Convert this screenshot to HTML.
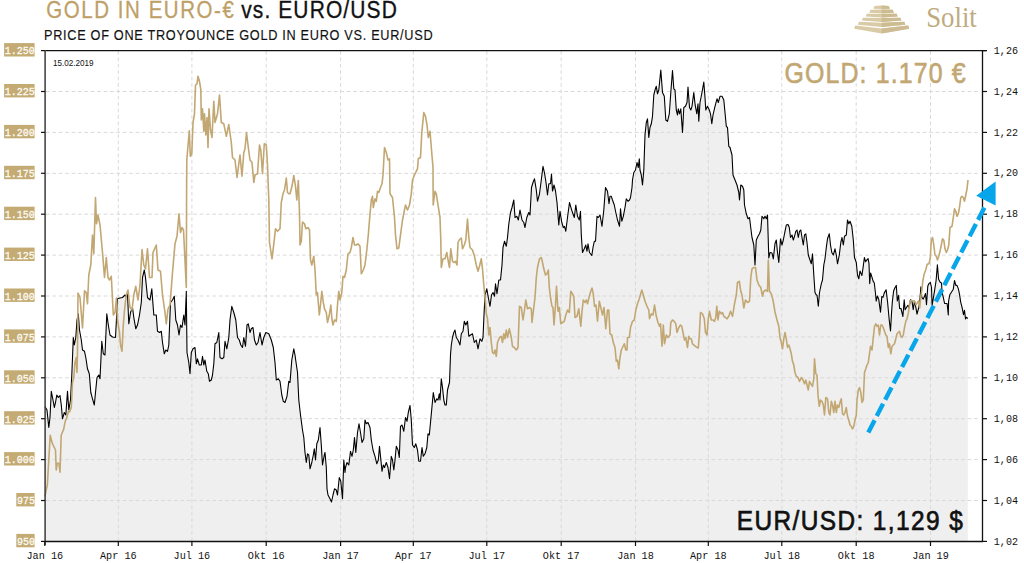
<!DOCTYPE html>
<html><head><meta charset="utf-8"><style>
html,body{margin:0;padding:0;background:#fff;width:1024px;height:563px;overflow:hidden}
svg{display:block}
.sans{font-family:"Liberation Sans",sans-serif}
.mono{font-family:"Liberation Mono",monospace}
.serif{font-family:"Liberation Serif",serif}
</style></head><body>
<svg width="1024" height="563" viewBox="0 0 1024 563">
<path d="M44.9,406.6 L47.0,410.0 L48.8,427.5 L50.0,417.5 L51.3,391.3 L53.0,400.0 L54.3,407.5 L55.5,402.5 L56.8,395.0 L58.3,397.5 L60.0,395.5 L61.3,405.0 L62.5,418.8 L64.3,412.5 L65.8,415.0 L67.5,391.3 L68.8,410.0 L70.5,400.0 L71.8,375.0 L73.3,337.5 L74.3,345.0 L75.8,337.5 L77.0,320.0 L78.3,313.8 L79.5,330.0 L81.3,340.0 L82.5,350.0 L84.5,351.3 L85.8,357.5 L87.5,368.8 L89.3,373.8 L90.8,392.5 L92.5,398.8 L94.3,405.0 L95.5,392.5 L97.0,377.5 L98.8,375.0 L100.0,378.8 L101.8,341.3 L103.3,353.8 L105.0,355.0 L106.8,313.8 L108.3,325.0 L110.0,335.0 L112.5,337.0 L115.5,337.5 L117.5,298.8 L120.0,298.0 L122.5,297.5 L125.0,295.0 L126.3,296.3 L127.5,293.8 L128.8,323.8 L130.5,312.5 L132.5,307.5 L133.8,317.5 L135.8,328.8 L137.5,325.0 L139.5,315.0 L141.3,302.5 L142.5,277.5 L144.3,270.0 L145.5,277.5 L147.5,297.5 L150.0,300.0 L151.8,288.8 L153.8,315.0 L156.3,315.0 L157.5,331.3 L159.5,332.5 L161.3,331.3 L162.5,342.5 L164.3,353.8 L165.8,350.0 L167.5,351.3 L168.8,345.0 L170.0,315.0 L170.5,302.5 L172.5,300.0 L174.3,296.3 L175.8,320.0 L177.5,325.0 L179.0,335.0 L180.5,325.0 L182.0,327.5 L183.8,315.0 L185.0,325.0 L186.3,291.3 L187.0,352.5 L188.8,362.5 L190.0,373.8 L191.3,352.5 L193.0,348.8 L195.0,347.5 L196.3,363.8 L197.5,358.8 L199.3,365.0 L201.3,365.0 L202.5,356.3 L203.8,365.0 L205.0,360.0 L206.8,371.3 L208.3,373.8 L209.5,381.3 L211.3,380.0 L212.5,375.0 L213.8,363.8 L215.0,343.8 L216.8,342.5 L218.8,332.5 L220.0,357.5 L222.0,358.8 L223.8,357.5 L225.0,341.3 L226.8,348.8 L228.8,337.5 L230.0,320.0 L231.8,306.3 L233.8,312.5 L235.8,320.0 L237.5,337.5 L239.3,340.0 L240.8,345.0 L242.5,347.5 L243.8,337.5 L245.5,346.3 L247.0,325.0 L248.3,323.8 L250.0,332.5 L251.3,328.8 L253.0,327.5 L254.5,340.0 L256.3,345.0 L258.0,342.5 L260.0,332.5 L262.0,345.0 L263.8,337.5 L265.8,332.5 L268.8,333.8 L271.3,340.0 L273.3,347.5 L275.0,362.5 L276.3,380.0 L278.3,378.8 L280.0,381.3 L281.8,395.0 L283.3,401.3 L285.0,402.5 L287.0,396.3 L288.8,381.3 L290.0,382.5 L291.8,360.0 L293.8,348.8 L295.0,355.0 L295.5,358.8 L297.5,372.5 L298.8,400.0 L300.5,415.0 L302.5,430.0 L303.8,437.5 L305.0,452.5 L306.3,462.5 L307.5,453.8 L308.8,455.0 L310.0,468.8 L311.8,462.5 L313.3,455.0 L314.3,448.8 L315.5,460.0 L316.8,443.8 L318.3,440.0 L320.0,427.5 L321.3,445.0 L322.5,465.0 L324.3,455.0 L325.0,452.5 L326.3,467.5 L327.0,488.8 L328.0,495.0 L330.0,498.8 L331.5,502.0 L333.0,495.0 L334.5,488.8 L336.3,490.0 L337.5,495.0 L339.3,477.5 L340.8,481.3 L342.5,498.8 L343.8,460.0 L345.0,472.5 L345.5,467.5 L347.0,462.5 L348.8,465.0 L350.5,451.3 L352.0,456.3 L353.3,450.0 L354.5,437.5 L355.8,452.5 L357.5,432.5 L359.0,423.8 L360.5,432.5 L362.0,442.5 L363.8,438.8 L365.0,420.0 L366.3,423.8 L368.0,422.5 L370.0,427.5 L371.3,440.0 L373.0,450.0 L375.0,456.3 L376.8,463.8 L378.3,460.0 L379.5,446.3 L380.5,456.3 L382.0,471.3 L383.3,465.0 L384.5,467.5 L386.3,462.5 L388.0,467.5 L389.5,478.8 L391.3,456.3 L392.5,460.0 L393.8,470.0 L395.0,460.0 L396.3,446.3 L398.0,450.0 L399.3,457.5 L400.5,426.3 L402.0,425.0 L403.8,431.3 L405.5,417.5 L407.0,421.3 L408.3,412.5 L410.0,405.5 L411.3,420.0 L412.5,445.0 L414.3,447.5 L415.8,443.8 L417.5,450.0 L418.8,461.3 L420.5,461.3 L422.0,447.5 L423.3,456.3 L425.0,453.8 L426.8,447.5 L428.0,433.8 L429.3,435.0 L430.5,422.5 L431.8,408.8 L433.3,392.5 L435.0,402.5 L436.8,398.8 L438.0,400.0 L439.3,393.8 L440.0,400.0 L441.3,378.8 L442.5,387.5 L443.8,400.0 L445.0,405.0 L446.3,405.0 L447.5,390.0 L449.5,382.5 L450.5,355.0 L451.3,345.0 L452.5,337.5 L453.8,332.5 L455.0,330.0 L456.3,337.5 L458.0,340.0 L460.0,345.0 L461.3,333.8 L463.0,331.3 L464.3,321.3 L465.8,325.0 L467.5,321.3 L468.8,336.3 L470.5,335.0 L472.5,333.8 L474.3,342.5 L476.3,340.0 L478.0,348.8 L480.0,338.8 L481.8,341.3 L483.0,337.5 L484.0,315.0 L485.0,295.0 L486.8,288.8 L488.3,297.5 L490.0,306.3 L491.5,295.0 L493.0,292.5 L494.5,296.3 L495.5,283.8 L497.0,293.8 L498.8,280.0 L500.5,280.0 L502.0,265.0 L503.0,247.5 L504.5,241.3 L506.3,246.3 L507.5,237.5 L508.8,224.0 L510.5,212.5 L512.0,207.5 L513.8,200.0 L515.0,217.5 L516.8,216.3 L518.3,220.0 L520.0,210.0 L522.0,220.0 L523.8,222.5 L525.0,227.5 L526.8,217.5 L528.8,212.5 L530.0,215.0 L531.5,187.5 L533.0,182.5 L534.5,178.8 L536.3,190.0 L537.5,201.3 L539.5,193.8 L541.3,180.0 L543.0,166.3 L544.5,173.0 L546.0,182.5 L547.5,195.0 L548.8,183.8 L550.5,183.8 L551.5,174.0 L552.5,191.0 L554.0,185.0 L555.5,191.0 L557.0,202.5 L558.8,225.0 L560.0,211.3 L561.8,222.5 L563.3,227.5 L564.5,226.3 L565.8,231.3 L567.5,217.5 L569.5,202.5 L571.3,208.8 L572.5,212.5 L574.3,217.5 L575.8,205.0 L577.5,216.3 L579.3,220.0 L580.5,211.3 L581.3,235.0 L582.5,252.5 L584.3,248.8 L585.8,245.0 L587.0,251.3 L588.0,243.8 L589.5,252.5 L591.8,255.5 L593.0,247.5 L594.3,241.3 L595.5,241.3 L597.0,216.3 L598.3,217.5 L600.0,215.0 L602.0,226.3 L603.8,210.0 L605.5,187.5 L607.5,191.3 L609.0,203.8 L610.0,196.3 L611.3,196.3 L612.5,200.0 L614.3,205.0 L615.8,212.5 L617.5,220.0 L619.5,226.3 L620.5,208.8 L621.8,221.3 L623.3,216.3 L625.0,207.5 L626.3,198.8 L628.0,201.3 L629.5,200.0 L630.5,197.5 L632.0,187.5 L632.5,180.0 L633.8,172.5 L635.5,170.0 L637.0,162.5 L638.3,167.5 L639.3,158.8 L640.0,170.0 L641.3,175.0 L642.5,185.0 L643.8,170.0 L645.0,135.0 L646.3,122.5 L647.5,118.8 L648.8,137.5 L650.0,127.5 L651.3,123.8 L652.5,116.3 L653.8,95.0 L655.0,90.0 L656.3,86.3 L657.5,93.8 L658.8,90.0 L660.8,70.0 L662.5,92.5 L664.3,96.3 L665.8,120.0 L667.5,121.3 L669.3,113.8 L670.8,92.5 L672.5,70.5 L673.8,88.8 L675.0,90.0 L676.3,110.0 L677.5,115.0 L678.3,108.8 L679.5,113.8 L680.8,108.8 L682.5,132.5 L683.8,107.5 L685.5,106.3 L687.0,102.5 L688.0,87.0 L689.5,107.5 L690.8,110.0 L692.0,106.3 L693.8,92.5 L695.0,103.8 L696.8,113.8 L698.0,103.8 L698.8,121.3 L700.0,102.5 L702.0,92.5 L703.8,82.0 L705.0,97.5 L705.8,110.0 L707.5,106.3 L709.3,110.0 L710.5,113.8 L711.8,123.8 L713.0,115.0 L715.0,106.3 L717.0,98.8 L718.3,102.5 L720.0,96.3 L722.0,96.3 L723.8,100.0 L725.0,112.5 L726.3,126.3 L727.5,127.5 L728.8,146.3 L730.0,147.5 L732.0,155.0 L733.0,175.0 L735.0,180.0 L737.0,185.0 L738.8,192.5 L739.5,200.0 L740.8,185.0 L742.5,186.3 L743.8,190.0 L744.5,205.0 L746.3,213.8 L748.0,218.8 L749.5,217.5 L750.8,228.0 L752.0,237.5 L753.8,245.0 L755.0,265.0 L756.3,240.0 L758.0,236.3 L759.5,233.8 L760.8,230.0 L762.0,216.3 L763.8,218.8 L765.0,216.3 L766.3,218.8 L767.5,215.0 L768.8,258.0 L770.0,252.5 L772.0,253.0 L773.3,259.0 L775.0,243.5 L776.3,240.0 L777.5,252.5 L778.8,262.5 L780.5,238.8 L782.0,245.0 L783.3,240.0 L785.0,231.3 L786.3,225.0 L788.0,224.5 L789.3,227.5 L790.5,237.5 L792.0,235.0 L793.3,240.0 L794.5,236.3 L795.8,231.3 L797.0,230.0 L798.3,237.5 L799.5,231.3 L800.8,230.0 L802.0,237.5 L803.3,245.0 L804.5,235.0 L805.8,233.8 L807.0,242.5 L808.3,255.0 L810.0,260.0 L811.3,263.8 L812.5,253.8 L813.8,275.0 L815.0,292.5 L816.3,295.0 L817.0,295.0 L818.3,306.3 L819.5,292.5 L821.3,283.8 L822.5,280.0 L823.8,265.0 L825.0,258.8 L826.3,247.5 L827.5,238.8 L829.3,233.8 L830.5,245.0 L831.8,252.5 L833.3,255.0 L835.0,248.8 L836.3,255.0 L837.5,263.8 L839.3,255.0 L840.8,242.5 L842.0,237.5 L843.3,245.0 L844.5,236.3 L846.3,235.0 L847.5,220.0 L848.8,223.8 L850.0,221.3 L851.8,226.3 L853.3,240.0 L854.5,257.5 L856.3,262.5 L857.5,275.0 L858.8,278.8 L860.0,271.0 L861.9,275.5 L863.1,267.4 L864.4,257.5 L865.6,261.8 L866.8,260.0 L868.1,258.7 L869.0,263.7 L869.7,283.6 L870.6,273.0 L871.8,276.7 L873.1,281.1 L874.3,283.0 L875.5,293.5 L876.2,301.0 L877.4,296.0 L878.7,299.1 L880.5,312.2 L881.8,296.6 L883.0,297.3 L884.3,292.9 L886.1,289.8 L887.6,302.2 L889.2,319.7 L890.5,331.0 L891.5,313.4 L892.3,302.2 L893.6,291.0 L894.8,288.0 L896.3,285.4 L897.3,301.0 L898.6,295.4 L899.6,308.5 L901.0,308.5 L902.9,316.5 L904.2,299.8 L905.1,309.7 L906.6,307.2 L907.9,305.3 L909.1,307.8 L910.4,299.8 L912.0,301.0 L913.2,309.7 L914.5,301.0 L915.7,306.6 L917.0,314.1 L918.5,308.5 L919.7,302.2 L920.9,286.7 L921.8,297.3 L923.2,299.1 L924.4,296.6 L925.5,293.5 L926.5,304.7 L927.8,286.1 L929.0,283.6 L930.3,282.3 L931.5,287.3 L932.1,305.3 L933.4,297.9 L934.6,290.4 L936.1,280.5 L937.4,264.9 L938.6,279.2 L940.2,282.3 L941.5,283.0 L942.1,292.3 L943.3,297.3 L944.6,303.5 L947.1,303.5 L948.3,315.0 L948.6,301.0 L949.8,294.8 L951.4,292.3 L953.3,289.2 L954.5,280.5 L955.8,285.4 L957.0,285.4 L958.3,288.6 L959.5,294.2 L960.7,302.2 L962.0,307.2 L963.5,314.7 L964.5,310.3 L965.5,319.0 L966.3,317.2 L967.8,318.5 L967.8,541.5 L44.9,541.5 Z" fill="#efefef"/>
<line x1="118.3" y1="51" x2="118.3" y2="541" stroke="#d9d9d9" stroke-width="1" stroke-dasharray="3.8,2.6"/>
<line x1="191.9" y1="51" x2="191.9" y2="541" stroke="#d9d9d9" stroke-width="1" stroke-dasharray="3.8,2.6"/>
<line x1="266.2" y1="51" x2="266.2" y2="541" stroke="#d9d9d9" stroke-width="1" stroke-dasharray="3.8,2.6"/>
<line x1="340.6" y1="51" x2="340.6" y2="541" stroke="#d9d9d9" stroke-width="1" stroke-dasharray="3.8,2.6"/>
<line x1="413.3" y1="51" x2="413.3" y2="541" stroke="#d9d9d9" stroke-width="1" stroke-dasharray="3.8,2.6"/>
<line x1="486.8" y1="51" x2="486.8" y2="541" stroke="#d9d9d9" stroke-width="1" stroke-dasharray="3.8,2.6"/>
<line x1="561.2" y1="51" x2="561.2" y2="541" stroke="#d9d9d9" stroke-width="1" stroke-dasharray="3.8,2.6"/>
<line x1="635.5" y1="51" x2="635.5" y2="541" stroke="#d9d9d9" stroke-width="1" stroke-dasharray="3.8,2.6"/>
<line x1="708.3" y1="51" x2="708.3" y2="541" stroke="#d9d9d9" stroke-width="1" stroke-dasharray="3.8,2.6"/>
<line x1="781.8" y1="51" x2="781.8" y2="541" stroke="#d9d9d9" stroke-width="1" stroke-dasharray="3.8,2.6"/>
<line x1="856.2" y1="51" x2="856.2" y2="541" stroke="#d9d9d9" stroke-width="1" stroke-dasharray="3.8,2.6"/>
<line x1="930.5" y1="51" x2="930.5" y2="541" stroke="#d9d9d9" stroke-width="1" stroke-dasharray="3.8,2.6"/>
<line x1="46" y1="91.5" x2="980" y2="91.5" stroke="#d9d9d9" stroke-width="1" stroke-dasharray="3.7,2.7"/>
<line x1="46" y1="132.4" x2="980" y2="132.4" stroke="#d9d9d9" stroke-width="1" stroke-dasharray="3.7,2.7"/>
<line x1="46" y1="173.3" x2="980" y2="173.3" stroke="#d9d9d9" stroke-width="1" stroke-dasharray="3.7,2.7"/>
<line x1="46" y1="214.2" x2="980" y2="214.2" stroke="#d9d9d9" stroke-width="1" stroke-dasharray="3.7,2.7"/>
<line x1="46" y1="255.1" x2="980" y2="255.1" stroke="#d9d9d9" stroke-width="1" stroke-dasharray="3.7,2.7"/>
<line x1="46" y1="296.0" x2="980" y2="296.0" stroke="#d9d9d9" stroke-width="1" stroke-dasharray="3.7,2.7"/>
<line x1="46" y1="336.9" x2="980" y2="336.9" stroke="#d9d9d9" stroke-width="1" stroke-dasharray="3.7,2.7"/>
<line x1="46" y1="377.8" x2="980" y2="377.8" stroke="#d9d9d9" stroke-width="1" stroke-dasharray="3.7,2.7"/>
<line x1="46" y1="418.7" x2="980" y2="418.7" stroke="#d9d9d9" stroke-width="1" stroke-dasharray="3.7,2.7"/>
<line x1="46" y1="459.6" x2="980" y2="459.6" stroke="#d9d9d9" stroke-width="1" stroke-dasharray="3.7,2.7"/>
<line x1="46" y1="500.5" x2="980" y2="500.5" stroke="#d9d9d9" stroke-width="1" stroke-dasharray="3.7,2.7"/>
<path d="M44.9,406.6 L47.0,410.0 L48.8,427.5 L50.0,417.5 L51.3,391.3 L53.0,400.0 L54.3,407.5 L55.5,402.5 L56.8,395.0 L58.3,397.5 L60.0,395.5 L61.3,405.0 L62.5,418.8 L64.3,412.5 L65.8,415.0 L67.5,391.3 L68.8,410.0 L70.5,400.0 L71.8,375.0 L73.3,337.5 L74.3,345.0 L75.8,337.5 L77.0,320.0 L78.3,313.8 L79.5,330.0 L81.3,340.0 L82.5,350.0 L84.5,351.3 L85.8,357.5 L87.5,368.8 L89.3,373.8 L90.8,392.5 L92.5,398.8 L94.3,405.0 L95.5,392.5 L97.0,377.5 L98.8,375.0 L100.0,378.8 L101.8,341.3 L103.3,353.8 L105.0,355.0 L106.8,313.8 L108.3,325.0 L110.0,335.0 L112.5,337.0 L115.5,337.5 L117.5,298.8 L120.0,298.0 L122.5,297.5 L125.0,295.0 L126.3,296.3 L127.5,293.8 L128.8,323.8 L130.5,312.5 L132.5,307.5 L133.8,317.5 L135.8,328.8 L137.5,325.0 L139.5,315.0 L141.3,302.5 L142.5,277.5 L144.3,270.0 L145.5,277.5 L147.5,297.5 L150.0,300.0 L151.8,288.8 L153.8,315.0 L156.3,315.0 L157.5,331.3 L159.5,332.5 L161.3,331.3 L162.5,342.5 L164.3,353.8 L165.8,350.0 L167.5,351.3 L168.8,345.0 L170.0,315.0 L170.5,302.5 L172.5,300.0 L174.3,296.3 L175.8,320.0 L177.5,325.0 L179.0,335.0 L180.5,325.0 L182.0,327.5 L183.8,315.0 L185.0,325.0 L186.3,291.3 L187.0,352.5 L188.8,362.5 L190.0,373.8 L191.3,352.5 L193.0,348.8 L195.0,347.5 L196.3,363.8 L197.5,358.8 L199.3,365.0 L201.3,365.0 L202.5,356.3 L203.8,365.0 L205.0,360.0 L206.8,371.3 L208.3,373.8 L209.5,381.3 L211.3,380.0 L212.5,375.0 L213.8,363.8 L215.0,343.8 L216.8,342.5 L218.8,332.5 L220.0,357.5 L222.0,358.8 L223.8,357.5 L225.0,341.3 L226.8,348.8 L228.8,337.5 L230.0,320.0 L231.8,306.3 L233.8,312.5 L235.8,320.0 L237.5,337.5 L239.3,340.0 L240.8,345.0 L242.5,347.5 L243.8,337.5 L245.5,346.3 L247.0,325.0 L248.3,323.8 L250.0,332.5 L251.3,328.8 L253.0,327.5 L254.5,340.0 L256.3,345.0 L258.0,342.5 L260.0,332.5 L262.0,345.0 L263.8,337.5 L265.8,332.5 L268.8,333.8 L271.3,340.0 L273.3,347.5 L275.0,362.5 L276.3,380.0 L278.3,378.8 L280.0,381.3 L281.8,395.0 L283.3,401.3 L285.0,402.5 L287.0,396.3 L288.8,381.3 L290.0,382.5 L291.8,360.0 L293.8,348.8 L295.0,355.0 L295.5,358.8 L297.5,372.5 L298.8,400.0 L300.5,415.0 L302.5,430.0 L303.8,437.5 L305.0,452.5 L306.3,462.5 L307.5,453.8 L308.8,455.0 L310.0,468.8 L311.8,462.5 L313.3,455.0 L314.3,448.8 L315.5,460.0 L316.8,443.8 L318.3,440.0 L320.0,427.5 L321.3,445.0 L322.5,465.0 L324.3,455.0 L325.0,452.5 L326.3,467.5 L327.0,488.8 L328.0,495.0 L330.0,498.8 L331.5,502.0 L333.0,495.0 L334.5,488.8 L336.3,490.0 L337.5,495.0 L339.3,477.5 L340.8,481.3 L342.5,498.8 L343.8,460.0 L345.0,472.5 L345.5,467.5 L347.0,462.5 L348.8,465.0 L350.5,451.3 L352.0,456.3 L353.3,450.0 L354.5,437.5 L355.8,452.5 L357.5,432.5 L359.0,423.8 L360.5,432.5 L362.0,442.5 L363.8,438.8 L365.0,420.0 L366.3,423.8 L368.0,422.5 L370.0,427.5 L371.3,440.0 L373.0,450.0 L375.0,456.3 L376.8,463.8 L378.3,460.0 L379.5,446.3 L380.5,456.3 L382.0,471.3 L383.3,465.0 L384.5,467.5 L386.3,462.5 L388.0,467.5 L389.5,478.8 L391.3,456.3 L392.5,460.0 L393.8,470.0 L395.0,460.0 L396.3,446.3 L398.0,450.0 L399.3,457.5 L400.5,426.3 L402.0,425.0 L403.8,431.3 L405.5,417.5 L407.0,421.3 L408.3,412.5 L410.0,405.5 L411.3,420.0 L412.5,445.0 L414.3,447.5 L415.8,443.8 L417.5,450.0 L418.8,461.3 L420.5,461.3 L422.0,447.5 L423.3,456.3 L425.0,453.8 L426.8,447.5 L428.0,433.8 L429.3,435.0 L430.5,422.5 L431.8,408.8 L433.3,392.5 L435.0,402.5 L436.8,398.8 L438.0,400.0 L439.3,393.8 L440.0,400.0 L441.3,378.8 L442.5,387.5 L443.8,400.0 L445.0,405.0 L446.3,405.0 L447.5,390.0 L449.5,382.5 L450.5,355.0 L451.3,345.0 L452.5,337.5 L453.8,332.5 L455.0,330.0 L456.3,337.5 L458.0,340.0 L460.0,345.0 L461.3,333.8 L463.0,331.3 L464.3,321.3 L465.8,325.0 L467.5,321.3 L468.8,336.3 L470.5,335.0 L472.5,333.8 L474.3,342.5 L476.3,340.0 L478.0,348.8 L480.0,338.8 L481.8,341.3 L483.0,337.5 L484.0,315.0 L485.0,295.0 L486.8,288.8 L488.3,297.5 L490.0,306.3 L491.5,295.0 L493.0,292.5 L494.5,296.3 L495.5,283.8 L497.0,293.8 L498.8,280.0 L500.5,280.0 L502.0,265.0 L503.0,247.5 L504.5,241.3 L506.3,246.3 L507.5,237.5 L508.8,224.0 L510.5,212.5 L512.0,207.5 L513.8,200.0 L515.0,217.5 L516.8,216.3 L518.3,220.0 L520.0,210.0 L522.0,220.0 L523.8,222.5 L525.0,227.5 L526.8,217.5 L528.8,212.5 L530.0,215.0 L531.5,187.5 L533.0,182.5 L534.5,178.8 L536.3,190.0 L537.5,201.3 L539.5,193.8 L541.3,180.0 L543.0,166.3 L544.5,173.0 L546.0,182.5 L547.5,195.0 L548.8,183.8 L550.5,183.8 L551.5,174.0 L552.5,191.0 L554.0,185.0 L555.5,191.0 L557.0,202.5 L558.8,225.0 L560.0,211.3 L561.8,222.5 L563.3,227.5 L564.5,226.3 L565.8,231.3 L567.5,217.5 L569.5,202.5 L571.3,208.8 L572.5,212.5 L574.3,217.5 L575.8,205.0 L577.5,216.3 L579.3,220.0 L580.5,211.3 L581.3,235.0 L582.5,252.5 L584.3,248.8 L585.8,245.0 L587.0,251.3 L588.0,243.8 L589.5,252.5 L591.8,255.5 L593.0,247.5 L594.3,241.3 L595.5,241.3 L597.0,216.3 L598.3,217.5 L600.0,215.0 L602.0,226.3 L603.8,210.0 L605.5,187.5 L607.5,191.3 L609.0,203.8 L610.0,196.3 L611.3,196.3 L612.5,200.0 L614.3,205.0 L615.8,212.5 L617.5,220.0 L619.5,226.3 L620.5,208.8 L621.8,221.3 L623.3,216.3 L625.0,207.5 L626.3,198.8 L628.0,201.3 L629.5,200.0 L630.5,197.5 L632.0,187.5 L632.5,180.0 L633.8,172.5 L635.5,170.0 L637.0,162.5 L638.3,167.5 L639.3,158.8 L640.0,170.0 L641.3,175.0 L642.5,185.0 L643.8,170.0 L645.0,135.0 L646.3,122.5 L647.5,118.8 L648.8,137.5 L650.0,127.5 L651.3,123.8 L652.5,116.3 L653.8,95.0 L655.0,90.0 L656.3,86.3 L657.5,93.8 L658.8,90.0 L660.8,70.0 L662.5,92.5 L664.3,96.3 L665.8,120.0 L667.5,121.3 L669.3,113.8 L670.8,92.5 L672.5,70.5 L673.8,88.8 L675.0,90.0 L676.3,110.0 L677.5,115.0 L678.3,108.8 L679.5,113.8 L680.8,108.8 L682.5,132.5 L683.8,107.5 L685.5,106.3 L687.0,102.5 L688.0,87.0 L689.5,107.5 L690.8,110.0 L692.0,106.3 L693.8,92.5 L695.0,103.8 L696.8,113.8 L698.0,103.8 L698.8,121.3 L700.0,102.5 L702.0,92.5 L703.8,82.0 L705.0,97.5 L705.8,110.0 L707.5,106.3 L709.3,110.0 L710.5,113.8 L711.8,123.8 L713.0,115.0 L715.0,106.3 L717.0,98.8 L718.3,102.5 L720.0,96.3 L722.0,96.3 L723.8,100.0 L725.0,112.5 L726.3,126.3 L727.5,127.5 L728.8,146.3 L730.0,147.5 L732.0,155.0 L733.0,175.0 L735.0,180.0 L737.0,185.0 L738.8,192.5 L739.5,200.0 L740.8,185.0 L742.5,186.3 L743.8,190.0 L744.5,205.0 L746.3,213.8 L748.0,218.8 L749.5,217.5 L750.8,228.0 L752.0,237.5 L753.8,245.0 L755.0,265.0 L756.3,240.0 L758.0,236.3 L759.5,233.8 L760.8,230.0 L762.0,216.3 L763.8,218.8 L765.0,216.3 L766.3,218.8 L767.5,215.0 L768.8,258.0 L770.0,252.5 L772.0,253.0 L773.3,259.0 L775.0,243.5 L776.3,240.0 L777.5,252.5 L778.8,262.5 L780.5,238.8 L782.0,245.0 L783.3,240.0 L785.0,231.3 L786.3,225.0 L788.0,224.5 L789.3,227.5 L790.5,237.5 L792.0,235.0 L793.3,240.0 L794.5,236.3 L795.8,231.3 L797.0,230.0 L798.3,237.5 L799.5,231.3 L800.8,230.0 L802.0,237.5 L803.3,245.0 L804.5,235.0 L805.8,233.8 L807.0,242.5 L808.3,255.0 L810.0,260.0 L811.3,263.8 L812.5,253.8 L813.8,275.0 L815.0,292.5 L816.3,295.0 L817.0,295.0 L818.3,306.3 L819.5,292.5 L821.3,283.8 L822.5,280.0 L823.8,265.0 L825.0,258.8 L826.3,247.5 L827.5,238.8 L829.3,233.8 L830.5,245.0 L831.8,252.5 L833.3,255.0 L835.0,248.8 L836.3,255.0 L837.5,263.8 L839.3,255.0 L840.8,242.5 L842.0,237.5 L843.3,245.0 L844.5,236.3 L846.3,235.0 L847.5,220.0 L848.8,223.8 L850.0,221.3 L851.8,226.3 L853.3,240.0 L854.5,257.5 L856.3,262.5 L857.5,275.0 L858.8,278.8 L860.0,271.0 L861.9,275.5 L863.1,267.4 L864.4,257.5 L865.6,261.8 L866.8,260.0 L868.1,258.7 L869.0,263.7 L869.7,283.6 L870.6,273.0 L871.8,276.7 L873.1,281.1 L874.3,283.0 L875.5,293.5 L876.2,301.0 L877.4,296.0 L878.7,299.1 L880.5,312.2 L881.8,296.6 L883.0,297.3 L884.3,292.9 L886.1,289.8 L887.6,302.2 L889.2,319.7 L890.5,331.0 L891.5,313.4 L892.3,302.2 L893.6,291.0 L894.8,288.0 L896.3,285.4 L897.3,301.0 L898.6,295.4 L899.6,308.5 L901.0,308.5 L902.9,316.5 L904.2,299.8 L905.1,309.7 L906.6,307.2 L907.9,305.3 L909.1,307.8 L910.4,299.8 L912.0,301.0 L913.2,309.7 L914.5,301.0 L915.7,306.6 L917.0,314.1 L918.5,308.5 L919.7,302.2 L920.9,286.7 L921.8,297.3 L923.2,299.1 L924.4,296.6 L925.5,293.5 L926.5,304.7 L927.8,286.1 L929.0,283.6 L930.3,282.3 L931.5,287.3 L932.1,305.3 L933.4,297.9 L934.6,290.4 L936.1,280.5 L937.4,264.9 L938.6,279.2 L940.2,282.3 L941.5,283.0 L942.1,292.3 L943.3,297.3 L944.6,303.5 L947.1,303.5 L948.3,315.0 L948.6,301.0 L949.8,294.8 L951.4,292.3 L953.3,289.2 L954.5,280.5 L955.8,285.4 L957.0,285.4 L958.3,288.6 L959.5,294.2 L960.7,302.2 L962.0,307.2 L963.5,314.7 L964.5,310.3 L965.5,319.0 L966.3,317.2 L967.8,318.5" fill="none" stroke="#000" stroke-width="1.1" stroke-linejoin="round"/>
<path d="M44.9,496.5 L47.4,484.3 L50.2,435.2 L52.3,443.4 L54.3,447.5 L55.5,450.0 L56.2,470.0 L57.3,463.3 L58.9,463.3 L60.0,472.2 L61.2,435.2 L63.7,429.1 L65.3,420.9 L66.7,418.0 L68.6,410.7 L69.5,412.0 L71.3,407.5 L72.5,382.5 L73.8,377.5 L75.0,362.5 L76.3,357.5 L77.0,372.5 L77.5,350.0 L78.0,293.0 L80.0,297.5 L82.5,328.0 L84.5,290.8 L86.3,292.5 L87.5,303.8 L88.8,275.0 L90.8,265.0 L92.5,235.0 L93.8,253.8 L95.5,197.5 L96.5,223.8 L98.0,215.0 L100.0,225.0 L102.5,252.5 L104.5,277.5 L106.3,257.5 L108.0,277.5 L109.5,280.0 L111.3,276.3 L113.3,315.0 L115.0,312.5 L116.5,298.0 L117.5,320.0 L119.5,332.5 L120.5,345.0 L122.0,351.3 L123.3,325.0 L124.5,310.0 L126.3,295.0 L128.0,290.0 L130.0,307.5 L132.0,310.0 L133.8,295.0 L135.8,286.3 L138.0,300.0 L140.0,285.0 L142.0,249.5 L143.8,265.0 L145.5,268.8 L147.5,248.8 L149.5,277.5 L152.0,277.5 L153.0,252.5 L156.3,245.0 L158.0,270.0 L160.5,271.3 L162.5,295.0 L165.0,312.5 L166.3,323.8 L168.0,309.0 L170.0,305.0 L172.5,272.5 L175.0,243.8 L177.0,236.3 L179.0,213.8 L180.5,232.5 L182.0,227.5 L183.5,230.0 L186.3,287.5 L186.6,190.0 L186.8,160.0 L189.3,130.8 L190.3,156.3 L191.8,153.8 L193.0,122.5 L194.5,113.8 L195.5,85.0 L197.0,83.8 L198.0,76.3 L199.5,81.3 L200.8,89.5 L201.3,120.0 L202.5,108.8 L203.8,131.3 L204.5,113.8 L205.8,135.0 L207.0,117.5 L208.0,147.5 L209.0,108.8 L210.5,130.0 L212.0,137.5 L213.8,101.3 L215.0,122.5 L217.5,113.8 L219.5,95.0 L221.3,122.5 L223.8,123.8 L226.3,136.3 L228.8,124.5 L231.3,142.5 L232.5,157.5 L235.0,160.0 L237.0,177.5 L240.0,155.0 L242.0,176.3 L243.8,152.5 L245.0,148.8 L246.5,132.5 L248.3,147.5 L250.0,160.0 L252.0,162.5 L253.8,182.5 L255.0,175.0 L257.5,173.8 L259.5,145.0 L260.8,150.0 L262.5,173.8 L264.3,143.8 L266.3,145.0 L267.5,165.0 L268.8,200.0 L269.5,242.5 L272.0,258.8 L273.8,243.8 L275.5,228.8 L277.5,231.3 L280.0,228.8 L281.3,202.5 L283.0,193.8 L284.5,190.0 L286.3,178.0 L287.5,192.5 L288.8,193.8 L290.0,193.8 L292.0,186.3 L293.8,175.5 L295.5,186.3 L296.8,200.0 L298.3,180.5 L299.5,212.5 L300.0,245.0 L301.3,241.3 L302.5,222.0 L304.5,223.8 L305.8,228.8 L308.0,227.5 L309.5,230.0 L310.5,260.0 L311.8,265.0 L313.8,256.3 L315.0,270.0 L316.3,295.0 L317.5,292.5 L319.3,315.0 L320.5,305.0 L321.8,291.3 L323.3,302.5 L324.5,308.8 L326.3,312.5 L327.5,322.5 L329.3,315.0 L330.8,305.0 L332.0,320.0 L333.0,325.0 L334.5,320.0 L336.3,321.3 L337.5,305.0 L338.8,291.3 L340.0,300.0 L341.8,292.5 L343.0,276.3 L344.5,277.5 L346.3,270.0 L348.0,253.8 L350.0,252.5 L351.3,247.5 L353.0,237.5 L354.5,245.0 L356.3,245.0 L358.0,243.8 L360.0,246.3 L361.3,273.8 L363.3,270.0 L365.0,265.0 L366.8,250.0 L368.3,235.0 L369.5,220.0 L371.3,200.0 L372.5,196.3 L373.3,207.5 L375.0,198.8 L376.3,201.3 L377.5,191.3 L378.8,192.5 L380.5,187.5 L382.0,183.8 L383.0,175.0 L384.5,147.5 L386.3,152.5 L388.0,160.0 L389.5,158.8 L390.0,193.8 L392.5,197.5 L394.5,217.5 L395.5,235.0 L397.0,248.8 L398.8,248.0 L400.5,235.0 L402.5,220.0 L405.5,205.0 L407.5,210.0 L409.5,205.0 L411.3,193.8 L412.5,180.0 L415.0,173.8 L417.5,168.8 L418.3,158.8 L420.5,157.5 L421.8,132.5 L423.8,112.5 L425.5,116.3 L427.0,125.0 L428.3,137.5 L430.0,131.3 L431.3,147.5 L433.0,167.5 L433.2,205.0 L435.0,191.3 L436.3,193.8 L438.0,205.0 L440.0,217.5 L440.8,240.0 L441.3,267.5 L443.0,258.8 L445.0,258.8 L446.8,252.5 L448.3,261.3 L449.5,267.5 L450.8,248.8 L452.5,261.3 L454.3,262.5 L455.5,261.3 L457.0,265.0 L458.0,242.5 L459.5,239.5 L461.3,238.0 L462.5,248.8 L464.3,245.0 L465.8,240.0 L467.5,219.0 L468.8,237.5 L470.0,247.5 L472.5,250.0 L474.5,256.3 L476.3,265.0 L478.0,271.3 L479.5,266.3 L481.3,258.8 L482.5,268.8 L483.8,285.0 L485.0,297.5 L486.3,313.8 L487.5,318.8 L488.8,335.0 L490.0,327.5 L491.3,342.5 L492.5,352.5 L493.8,353.8 L495.0,350.0 L496.3,356.3 L497.5,342.5 L499.5,337.5 L501.3,336.3 L502.5,342.5 L503.8,333.8 L505.0,338.8 L506.3,330.0 L507.5,337.5 L509.3,328.8 L511.3,337.5 L512.5,346.3 L514.3,347.5 L516.3,350.0 L518.0,347.5 L519.5,306.3 L521.3,307.5 L523.0,320.0 L524.5,310.0 L525.8,300.0 L527.5,308.8 L529.5,307.5 L531.3,308.8 L532.0,322.5 L533.8,307.5 L535.0,297.5 L536.3,277.5 L537.5,267.5 L539.5,258.8 L541.3,257.5 L542.0,260.0 L543.8,268.8 L545.5,275.0 L547.0,273.8 L548.3,270.0 L549.3,287.5 L550.5,297.5 L552.0,306.3 L553.0,307.5 L554.0,325.0 L555.5,305.0 L556.5,286.3 L558.0,311.3 L559.3,307.5 L560.8,323.8 L562.5,322.5 L564.3,321.3 L565.5,316.3 L567.5,310.0 L569.3,312.5 L570.8,291.3 L572.5,293.8 L573.8,296.3 L575.0,317.5 L577.0,316.3 L578.8,308.8 L580.8,326.3 L582.0,311.3 L583.3,300.0 L585.0,302.5 L586.3,300.0 L587.5,303.8 L589.3,296.3 L590.8,291.3 L592.0,288.0 L593.3,293.8 L594.5,306.3 L596.0,305.0 L597.5,321.3 L599.3,301.3 L600.8,307.5 L602.5,315.0 L604.0,307.5 L605.8,328.8 L607.5,310.0 L608.8,310.0 L610.0,333.8 L611.8,335.0 L613.3,342.5 L615.0,347.5 L616.3,361.3 L617.5,360.0 L618.8,368.8 L620.0,357.5 L621.3,350.0 L622.5,347.5 L624.3,343.8 L625.8,350.0 L627.0,350.0 L627.5,337.5 L629.3,337.5 L630.5,327.5 L632.5,321.3 L634.3,320.0 L635.8,310.0 L637.5,303.8 L639.3,298.8 L641.8,290.0 L643.3,295.0 L645.0,301.3 L647.0,306.3 L648.8,310.0 L649.5,318.8 L651.3,313.8 L653.0,315.0 L654.5,305.0 L656.3,316.3 L658.0,322.5 L659.5,326.3 L660.5,323.8 L662.0,346.3 L663.3,325.0 L664.5,343.8 L666.3,335.0 L668.0,337.5 L670.0,335.0 L670.8,322.5 L672.5,320.0 L674.3,321.3 L675.8,323.8 L677.0,332.5 L678.8,327.5 L680.5,325.0 L681.8,326.3 L683.0,332.5 L684.5,340.0 L685.8,337.5 L687.5,347.5 L688.8,336.3 L690.0,338.8 L691.3,338.8 L692.5,343.8 L693.8,345.0 L695.5,346.3 L697.0,347.5 L698.3,348.0 L699.3,335.0 L700.5,312.5 L702.5,313.8 L704.3,318.8 L705.5,332.5 L707.0,335.0 L708.3,318.8 L709.5,311.3 L711.3,320.0 L713.0,320.0 L714.5,321.3 L715.8,317.5 L716.8,306.3 L718.0,320.0 L719.3,311.3 L721.3,313.8 L722.5,312.5 L723.8,316.3 L725.5,317.5 L727.0,318.8 L728.8,316.3 L730.5,311.3 L732.5,316.3 L734.5,303.8 L736.3,295.0 L737.5,282.5 L739.3,281.3 L740.8,291.3 L742.0,295.0 L743.8,308.0 L745.5,300.0 L747.5,302.5 L749.5,301.3 L750.8,277.5 L752.0,268.8 L753.8,267.5 L755.5,267.5 L757.0,280.0 L758.8,285.0 L760.8,287.5 L762.5,296.3 L763.8,291.3 L765.5,290.0 L767.5,291.3 L768.3,260.0 L769.5,291.3 L771.3,293.8 L773.0,300.0 L775.0,312.0 L777.0,320.0 L778.8,326.3 L780.0,337.5 L781.3,342.5 L782.5,348.8 L783.8,338.8 L785.0,332.5 L786.3,338.8 L787.5,347.5 L788.8,345.0 L790.0,348.8 L791.3,353.8 L792.5,361.3 L793.8,365.0 L795.0,372.5 L796.3,376.3 L798.0,377.5 L799.5,381.3 L801.3,377.5 L803.0,380.0 L804.5,383.8 L805.8,380.0 L807.0,385.0 L808.3,390.0 L809.5,381.3 L810.8,383.8 L812.5,386.3 L813.8,378.8 L814.5,358.8 L815.8,373.8 L817.0,375.0 L818.0,395.0 L819.3,406.3 L820.5,400.0 L822.0,401.3 L823.3,405.0 L824.5,415.0 L825.8,397.5 L827.5,398.8 L828.8,412.5 L830.0,415.0 L831.3,401.3 L832.5,405.0 L833.8,412.5 L835.0,401.3 L836.3,412.5 L837.5,405.0 L838.8,407.5 L840.0,402.5 L841.3,398.8 L842.5,413.8 L843.8,415.0 L845.0,412.5 L846.3,407.5 L847.5,416.3 L848.8,420.0 L850.0,425.0 L851.3,426.3 L852.5,428.8 L853.8,426.3 L855.0,420.0 L856.3,415.0 L857.0,400.0 L858.3,390.0 L859.5,387.5 L860.8,392.5 L862.0,402.5 L863.3,400.0 L864.5,372.5 L865.8,368.8 L867.0,365.0 L868.3,362.5 L869.5,353.8 L870.5,346.3 L872.0,350.0 L873.3,337.5 L874.5,326.3 L875.8,323.8 L877.0,326.3 L878.3,325.0 L879.5,335.0 L880.8,325.0 L882.0,325.0 L883.3,327.5 L884.5,331.3 L885.8,335.0 L887.0,336.3 L888.3,347.5 L889.5,343.8 L890.8,353.8 L892.0,346.3 L893.3,345.0 L894.5,343.8 L895.8,338.8 L897.0,333.8 L898.3,332.5 L899.5,331.3 L900.8,336.3 L902.0,337.5 L903.3,335.0 L904.5,327.5 L905.8,321.3 L907.0,318.8 L908.5,312.2 L909.8,302.2 L911.0,300.4 L912.9,301.0 L914.7,301.6 L916.0,304.7 L917.2,302.9 L918.5,301.0 L919.7,307.8 L920.9,296.0 L921.9,289.8 L922.8,281.1 L924.1,274.3 L925.7,269.9 L927.2,264.3 L929.0,263.7 L930.3,258.0 L931.3,240.0 L932.5,237.5 L933.8,245.0 L935.0,255.0 L936.3,256.3 L937.5,260.0 L938.8,256.3 L940.0,251.3 L941.3,245.0 L942.5,238.8 L943.8,240.0 L945.0,248.8 L946.3,252.5 L947.5,250.0 L948.8,245.0 L950.0,227.5 L952.0,226.3 L953.3,217.5 L954.5,208.8 L955.8,211.3 L957.0,216.3 L958.3,213.8 L959.5,207.5 L960.8,197.5 L962.0,196.3 L963.3,197.5 L964.5,201.3 L965.8,195.0 L967.0,188.8 L968.0,180.0" fill="none" stroke="#c2a773" stroke-width="1.6" stroke-linejoin="round"/>
<line x1="45.5" y1="50.6" x2="986.5" y2="50.6" stroke="#111" stroke-width="1.3"/>
<line x1="45.1" y1="50" x2="45.1" y2="545" stroke="#3a3a3a" stroke-width="1.5"/>
<line x1="982.5" y1="50" x2="982.5" y2="541.5" stroke="#111" stroke-width="1.3"/>
<line x1="45" y1="541.5" x2="983" y2="541.5" stroke="#111" stroke-width="1.3"/>
<line x1="41" y1="50.6" x2="45" y2="50.6" stroke="#111" stroke-width="1.2"/>
<rect x="4.1" y="43.1" width="30.5" height="13.4" fill="#c4ab73"/>
<text x="4.8" y="54.4" class="mono" fill="#fdfbf5" stroke="#fdfbf5" stroke-width="0.3" font-size="11.8" textLength="30.1" lengthAdjust="spacingAndGlyphs">1.250</text>
<line x1="41" y1="91.5" x2="45" y2="91.5" stroke="#111" stroke-width="1.2"/>
<rect x="4.1" y="84.0" width="30.5" height="13.4" fill="#c4ab73"/>
<text x="4.8" y="95.3" class="mono" fill="#fdfbf5" stroke="#fdfbf5" stroke-width="0.3" font-size="11.8" textLength="30.1" lengthAdjust="spacingAndGlyphs">1.225</text>
<line x1="41" y1="132.4" x2="45" y2="132.4" stroke="#111" stroke-width="1.2"/>
<rect x="4.1" y="124.9" width="30.5" height="13.4" fill="#c4ab73"/>
<text x="4.8" y="136.2" class="mono" fill="#fdfbf5" stroke="#fdfbf5" stroke-width="0.3" font-size="11.8" textLength="30.1" lengthAdjust="spacingAndGlyphs">1.200</text>
<line x1="41" y1="173.3" x2="45" y2="173.3" stroke="#111" stroke-width="1.2"/>
<rect x="4.1" y="165.8" width="30.5" height="13.4" fill="#c4ab73"/>
<text x="4.8" y="177.1" class="mono" fill="#fdfbf5" stroke="#fdfbf5" stroke-width="0.3" font-size="11.8" textLength="30.1" lengthAdjust="spacingAndGlyphs">1.175</text>
<line x1="41" y1="214.2" x2="45" y2="214.2" stroke="#111" stroke-width="1.2"/>
<rect x="4.1" y="206.7" width="30.5" height="13.4" fill="#c4ab73"/>
<text x="4.8" y="218.0" class="mono" fill="#fdfbf5" stroke="#fdfbf5" stroke-width="0.3" font-size="11.8" textLength="30.1" lengthAdjust="spacingAndGlyphs">1.150</text>
<line x1="41" y1="255.1" x2="45" y2="255.1" stroke="#111" stroke-width="1.2"/>
<rect x="4.1" y="247.6" width="30.5" height="13.4" fill="#c4ab73"/>
<text x="4.8" y="258.9" class="mono" fill="#fdfbf5" stroke="#fdfbf5" stroke-width="0.3" font-size="11.8" textLength="30.1" lengthAdjust="spacingAndGlyphs">1.125</text>
<line x1="41" y1="296.0" x2="45" y2="296.0" stroke="#111" stroke-width="1.2"/>
<rect x="4.1" y="288.5" width="30.5" height="13.4" fill="#c4ab73"/>
<text x="4.8" y="299.8" class="mono" fill="#fdfbf5" stroke="#fdfbf5" stroke-width="0.3" font-size="11.8" textLength="30.1" lengthAdjust="spacingAndGlyphs">1.100</text>
<line x1="41" y1="336.9" x2="45" y2="336.9" stroke="#111" stroke-width="1.2"/>
<rect x="4.1" y="329.4" width="30.5" height="13.4" fill="#c4ab73"/>
<text x="4.8" y="340.7" class="mono" fill="#fdfbf5" stroke="#fdfbf5" stroke-width="0.3" font-size="11.8" textLength="30.1" lengthAdjust="spacingAndGlyphs">1.075</text>
<line x1="41" y1="377.8" x2="45" y2="377.8" stroke="#111" stroke-width="1.2"/>
<rect x="4.1" y="370.3" width="30.5" height="13.4" fill="#c4ab73"/>
<text x="4.8" y="381.6" class="mono" fill="#fdfbf5" stroke="#fdfbf5" stroke-width="0.3" font-size="11.8" textLength="30.1" lengthAdjust="spacingAndGlyphs">1.050</text>
<line x1="41" y1="418.7" x2="45" y2="418.7" stroke="#111" stroke-width="1.2"/>
<rect x="4.1" y="411.2" width="30.5" height="13.4" fill="#c4ab73"/>
<text x="4.8" y="422.5" class="mono" fill="#fdfbf5" stroke="#fdfbf5" stroke-width="0.3" font-size="11.8" textLength="30.1" lengthAdjust="spacingAndGlyphs">1.025</text>
<line x1="41" y1="459.6" x2="45" y2="459.6" stroke="#111" stroke-width="1.2"/>
<rect x="4.1" y="452.1" width="30.5" height="13.4" fill="#c4ab73"/>
<text x="4.8" y="463.4" class="mono" fill="#fdfbf5" stroke="#fdfbf5" stroke-width="0.3" font-size="11.8" textLength="30.1" lengthAdjust="spacingAndGlyphs">1.000</text>
<line x1="41" y1="500.5" x2="45" y2="500.5" stroke="#111" stroke-width="1.2"/>
<rect x="16.3" y="493.0" width="18.3" height="13.4" fill="#c4ab73"/>
<text x="17.0" y="504.3" class="mono" fill="#fdfbf5" stroke="#fdfbf5" stroke-width="0.3" font-size="11.8" textLength="17.9" lengthAdjust="spacingAndGlyphs">975</text>
<line x1="41" y1="541.4" x2="45" y2="541.4" stroke="#111" stroke-width="1.2"/>
<rect x="16.3" y="533.9" width="18.3" height="13.4" fill="#c4ab73"/>
<text x="17.0" y="545.2" class="mono" fill="#fdfbf5" stroke="#fdfbf5" stroke-width="0.3" font-size="11.8" textLength="17.9" lengthAdjust="spacingAndGlyphs">950</text>
<line x1="982" y1="50.6" x2="987" y2="50.6" stroke="#111" stroke-width="1.2"/>
<text x="993.8" y="53.7" class="mono" fill="#111" font-size="11.2" textLength="24.2" lengthAdjust="spacingAndGlyphs">1,26</text>
<line x1="982" y1="91.5" x2="987" y2="91.5" stroke="#111" stroke-width="1.2"/>
<text x="993.8" y="94.6" class="mono" fill="#111" font-size="11.2" textLength="24.2" lengthAdjust="spacingAndGlyphs">1,24</text>
<line x1="982" y1="132.4" x2="987" y2="132.4" stroke="#111" stroke-width="1.2"/>
<text x="993.8" y="135.5" class="mono" fill="#111" font-size="11.2" textLength="24.2" lengthAdjust="spacingAndGlyphs">1,22</text>
<line x1="982" y1="173.3" x2="987" y2="173.3" stroke="#111" stroke-width="1.2"/>
<text x="993.8" y="176.4" class="mono" fill="#111" font-size="11.2" textLength="24.2" lengthAdjust="spacingAndGlyphs">1,20</text>
<line x1="982" y1="214.2" x2="987" y2="214.2" stroke="#111" stroke-width="1.2"/>
<text x="993.8" y="217.3" class="mono" fill="#111" font-size="11.2" textLength="24.2" lengthAdjust="spacingAndGlyphs">1,18</text>
<line x1="982" y1="255.1" x2="987" y2="255.1" stroke="#111" stroke-width="1.2"/>
<text x="993.8" y="258.2" class="mono" fill="#111" font-size="11.2" textLength="24.2" lengthAdjust="spacingAndGlyphs">1,16</text>
<line x1="982" y1="296.0" x2="987" y2="296.0" stroke="#111" stroke-width="1.2"/>
<text x="993.8" y="299.1" class="mono" fill="#111" font-size="11.2" textLength="24.2" lengthAdjust="spacingAndGlyphs">1,14</text>
<line x1="982" y1="336.9" x2="987" y2="336.9" stroke="#111" stroke-width="1.2"/>
<text x="993.8" y="340.0" class="mono" fill="#111" font-size="11.2" textLength="24.2" lengthAdjust="spacingAndGlyphs">1,12</text>
<line x1="982" y1="377.8" x2="987" y2="377.8" stroke="#111" stroke-width="1.2"/>
<text x="993.8" y="380.9" class="mono" fill="#111" font-size="11.2" textLength="24.2" lengthAdjust="spacingAndGlyphs">1,10</text>
<line x1="982" y1="418.7" x2="987" y2="418.7" stroke="#111" stroke-width="1.2"/>
<text x="993.8" y="421.8" class="mono" fill="#111" font-size="11.2" textLength="24.2" lengthAdjust="spacingAndGlyphs">1,08</text>
<line x1="982" y1="459.6" x2="987" y2="459.6" stroke="#111" stroke-width="1.2"/>
<text x="993.8" y="462.7" class="mono" fill="#111" font-size="11.2" textLength="24.2" lengthAdjust="spacingAndGlyphs">1,06</text>
<line x1="982" y1="500.5" x2="987" y2="500.5" stroke="#111" stroke-width="1.2"/>
<text x="993.8" y="503.6" class="mono" fill="#111" font-size="11.2" textLength="24.2" lengthAdjust="spacingAndGlyphs">1,04</text>
<line x1="982" y1="541.4" x2="987" y2="541.4" stroke="#111" stroke-width="1.2"/>
<text x="993.8" y="544.5" class="mono" fill="#111" font-size="11.2" textLength="24.2" lengthAdjust="spacingAndGlyphs">1,02</text>
<line x1="44.8" y1="541" x2="44.8" y2="546" stroke="#111" stroke-width="1.2"/>
<text x="44.8" y="559" text-anchor="middle" class="mono" fill="#111" font-size="10.2">Jan 16</text>
<line x1="118.3" y1="541" x2="118.3" y2="546" stroke="#111" stroke-width="1.2"/>
<text x="118.3" y="559" text-anchor="middle" class="mono" fill="#111" font-size="10.2">Apr 16</text>
<line x1="191.9" y1="541" x2="191.9" y2="546" stroke="#111" stroke-width="1.2"/>
<text x="191.9" y="559" text-anchor="middle" class="mono" fill="#111" font-size="10.2">Jul 16</text>
<line x1="266.2" y1="541" x2="266.2" y2="546" stroke="#111" stroke-width="1.2"/>
<text x="266.2" y="559" text-anchor="middle" class="mono" fill="#111" font-size="10.2">Okt 16</text>
<line x1="340.6" y1="541" x2="340.6" y2="546" stroke="#111" stroke-width="1.2"/>
<text x="340.6" y="559" text-anchor="middle" class="mono" fill="#111" font-size="10.2">Jan 17</text>
<line x1="413.3" y1="541" x2="413.3" y2="546" stroke="#111" stroke-width="1.2"/>
<text x="413.3" y="559" text-anchor="middle" class="mono" fill="#111" font-size="10.2">Apr 17</text>
<line x1="486.8" y1="541" x2="486.8" y2="546" stroke="#111" stroke-width="1.2"/>
<text x="486.8" y="559" text-anchor="middle" class="mono" fill="#111" font-size="10.2">Jul 17</text>
<line x1="561.2" y1="541" x2="561.2" y2="546" stroke="#111" stroke-width="1.2"/>
<text x="561.2" y="559" text-anchor="middle" class="mono" fill="#111" font-size="10.2">Okt 17</text>
<line x1="635.5" y1="541" x2="635.5" y2="546" stroke="#111" stroke-width="1.2"/>
<text x="635.5" y="559" text-anchor="middle" class="mono" fill="#111" font-size="10.2">Jan 18</text>
<line x1="708.3" y1="541" x2="708.3" y2="546" stroke="#111" stroke-width="1.2"/>
<text x="708.3" y="559" text-anchor="middle" class="mono" fill="#111" font-size="10.2">Apr 18</text>
<line x1="781.8" y1="541" x2="781.8" y2="546" stroke="#111" stroke-width="1.2"/>
<text x="781.8" y="559" text-anchor="middle" class="mono" fill="#111" font-size="10.2">Jul 18</text>
<line x1="856.2" y1="541" x2="856.2" y2="546" stroke="#111" stroke-width="1.2"/>
<text x="856.2" y="559" text-anchor="middle" class="mono" fill="#111" font-size="10.2">Okt 18</text>
<line x1="930.5" y1="541" x2="930.5" y2="546" stroke="#111" stroke-width="1.2"/>
<text x="930.5" y="559" text-anchor="middle" class="mono" fill="#111" font-size="10.2">Jan 19</text>
<text x="53" y="66.4" class="sans" font-size="9.2" fill="#111" textLength="40.6" lengthAdjust="spacingAndGlyphs">15.02.2019</text>
<text transform="translate(784.4,82.5) scale(0.86,1)" x="0" y="0" class="sans" font-size="29" fill="#c2a773" stroke="#c2a773" stroke-width="0.6" textLength="210.70" lengthAdjust="spacing">GOLD: 1.170 €</text>
<text transform="translate(736.8,530) scale(0.86,1)" x="0" y="0" class="sans" font-size="28.4" fill="#111" stroke="#111" stroke-width="0.7" textLength="262.79" lengthAdjust="spacing">EUR/USD: 1,129 $</text>
<line x1="868.3" y1="432.4" x2="985.5" y2="205.5" stroke="#07a6ea" stroke-width="4.4" stroke-dasharray="13.8,4.6"/>
<polygon points="995.6,181.4 976.2,195.8 995.6,205.6" fill="#07a6ea"/>
<text transform="translate(46.3,17.9) scale(0.84,1)" x="0" y="0" class="sans" font-size="24.4" fill="#bea067" stroke="#bea067" stroke-width="0.3" textLength="223.21" lengthAdjust="spacing">GOLD IN EURO-€</text>
<text transform="translate(241.2,17.9) scale(0.86,1)" x="0" y="0" class="sans" font-size="24.4" fill="#111" stroke="#111" stroke-width="0.35" textLength="180.93" lengthAdjust="spacing">vs. EURO/USD</text>
<text transform="translate(44,39.8) scale(0.86,1)" x="0" y="0" class="sans" font-size="14.8" fill="#111" stroke="#111" stroke-width="0.15" textLength="451.86" lengthAdjust="spacing">PRICE OF ONE TROYOUNCE GOLD IN EURO VS. EUR/USD</text>
<text x="926.2" y="26.8" class="serif" font-size="28.8" fill="#bfab80" textLength="50.6" lengthAdjust="spacingAndGlyphs">Solit</text>
<g><polygon points="874.4,6.0 881.6,5.5 888.8,6.0 889.8,8.7 881.6,8.9 873.4,8.7" fill="#d9cba6"/><polygon points="881.6,5.5 888.8,6.0 889.8,8.7 881.6,8.9" fill="#cdbc92"/><polygon points="870.4,9.7 881.6,9.4 892.8,9.7 893.8,12.8 881.6,13.3 869.4,12.8" fill="#d9cba6"/><polygon points="881.6,9.4 892.8,9.7 893.8,12.8 881.6,13.3" fill="#cdbc92"/><polygon points="866.8000000000001,13.7 881.6,13.7 896.6999999999999,13.7 897.6999999999999,16.6 881.6,17.5 865.8000000000001,16.6" fill="#d9cba6"/><polygon points="881.6,13.7 896.6999999999999,13.7 897.6999999999999,16.6 881.6,17.5" fill="#cdbc92"/><polygon points="862.9,17.7 881.6,17.9 900.4,17.7 901.4,20.6 881.6,22.0 861.9,20.6" fill="#d9cba6"/><polygon points="881.6,17.9 900.4,17.7 901.4,20.6 881.6,22.0" fill="#cdbc92"/><polygon points="858.9,21.7 881.6,22.7 904.3,21.7 905.3,24.7 881.6,26.9 857.9,24.7" fill="#d9cba6"/><polygon points="881.6,22.7 904.3,21.7 905.3,24.7 881.6,26.9" fill="#cdbc92"/><polygon points="855.2,25.6 881.6,28.5 908.1999999999999,25.6 909.1999999999999,28.8 881.6,33.5 854.2,28.8" fill="#d9cba6"/><polygon points="881.6,28.5 908.1999999999999,25.6 909.1999999999999,28.8 881.6,33.5" fill="#cdbc92"/></g>
</svg>
</body></html>
